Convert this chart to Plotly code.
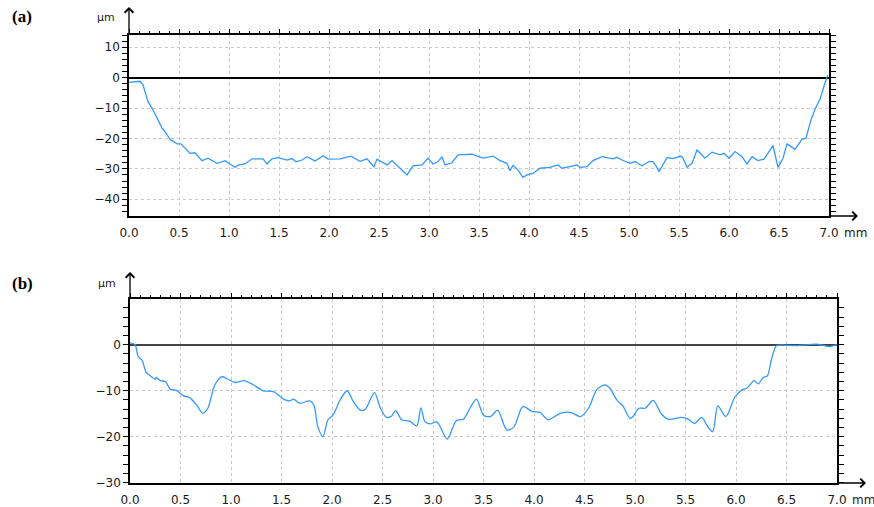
import plotly.graph_objects as go

# ---- data: panel (a) ----
a_x = [0.00,0.11,0.14,0.19,0.24,0.33,0.36,0.41,0.48,0.52,0.61,0.66,0.73,0.79,0.88,0.96,1.06,1.10,1.16,1.23,
       1.34,1.38,1.43,1.49,1.58,1.63,1.67,1.73,1.78,1.86,1.94,1.99,2.11,2.22,2.31,2.38,2.45,2.48,2.58,2.63,
       2.71,2.78,2.84,2.93,2.99,3.04,3.09,3.13,3.16,3.23,3.29,3.43,3.54,3.64,3.71,3.78,3.81,3.84,3.89,3.94,
       3.98,4.04,4.11,4.21,4.29,4.33,4.41,4.48,4.51,4.58,4.64,4.73,4.84,4.88,4.93,5.01,5.06,5.13,5.20,5.24,
       5.27,5.30,5.38,5.44,5.52,5.54,5.58,5.63,5.68,5.76,5.83,5.91,5.95,6.00,6.06,6.13,6.18,6.23,6.29,6.35,
       6.44,6.49,6.54,6.58,6.66,6.73,6.77,6.82,6.86,6.91,6.96,6.99]
a_y = [-1.6,-1.2,-2.4,-7.9,-10.6,-16.6,-17.8,-20.3,-21.8,-21.8,-24.9,-24.7,-27.3,-26.5,-28.2,-27.3,-29.5,-28.7,-28.4,-26.7,
       -26.7,-28.4,-26.7,-26.3,-27.1,-26.6,-27.7,-27.1,-26.0,-27.4,-25.7,-26.8,-26.7,-25.8,-27.5,-26.7,-29.3,-26.8,-28.7,-27.3,
       -29.8,-32.0,-29.0,-28.7,-26.5,-28.4,-27.6,-26.0,-28.7,-28.0,-25.4,-25.2,-26.5,-25.8,-27.3,-28.2,-30.6,-28.8,-30.4,-32.8,
       -32.0,-31.5,-29.8,-29.5,-28.7,-29.8,-29.3,-28.7,-29.5,-29.3,-27.3,-26.0,-26.7,-26.2,-27.1,-28.2,-27.6,-29.0,-27.6,-27.6,
       -29.0,-30.9,-26.3,-26.6,-25.8,-26.5,-29.5,-28.2,-23.8,-26.5,-24.5,-25.4,-24.9,-26.5,-24.3,-26.0,-28.4,-26.0,-27.3,-26.8,
       -22.4,-29.5,-26.5,-21.8,-23.6,-20.3,-19.9,-13.9,-10.4,-7.1,-1.8,0.9]

# ---- data: panel (b) ----
b_x = [0.00,0.05,0.08,0.12,0.16,0.21,0.25,0.26,0.30,0.35,0.40,0.46,0.53,0.59,0.66,0.72,0.77,0.84,0.91,0.97,
       1.04,1.13,1.22,1.32,1.42,1.52,1.58,1.62,1.68,1.78,1.82,1.86,1.91,1.96,2.01,2.08,2.15,2.21,2.28,2.33,
       2.42,2.48,2.54,2.59,2.63,2.69,2.77,2.84,2.88,2.92,2.97,3.04,3.14,3.23,3.30,3.37,3.43,3.50,3.57,3.64,
       3.73,3.80,3.89,3.98,4.06,4.14,4.26,4.36,4.46,4.54,4.62,4.70,4.75,4.82,4.88,4.95,4.98,5.04,5.10,5.18,
       5.26,5.33,5.46,5.53,5.59,5.66,5.72,5.77,5.82,5.90,5.99,6.06,6.11,6.18,6.22,6.27,6.31,6.35,6.40,6.45,
       6.60,6.80,6.93,7.00]
b_y = [0.4,0.0,-2.5,-3.4,-6.0,-6.9,-7.5,-7.1,-7.8,-8.0,-9.7,-9.9,-11.1,-11.5,-13.1,-14.9,-13.8,-8.7,-6.9,-7.5,
       -8.2,-7.8,-8.7,-10.0,-10.2,-11.8,-12.2,-11.8,-12.7,-12.2,-13.1,-17.8,-20.0,-16.3,-15.3,-12.0,-10.0,-12.3,-14.2,-14.0,
       -10.4,-13.8,-15.8,-15.5,-14.3,-16.3,-16.6,-17.6,-13.7,-16.7,-17.2,-16.8,-20.5,-16.5,-16.2,-13.6,-11.8,-15.3,-15.6,-14.2,
       -18.5,-17.9,-13.4,-14.5,-14.7,-16.3,-14.9,-14.7,-15.6,-13.8,-9.8,-8.7,-9.4,-12.0,-13.3,-16.0,-15.6,-13.8,-13.8,-12.1,
       -15.0,-16.2,-15.8,-16.2,-17.1,-15.8,-17.8,-18.9,-13.3,-15.6,-11.3,-9.8,-9.4,-7.8,-8.5,-7.1,-6.8,-3.3,-0.2,-0.1,
       -0.2,0.15,-0.4,0.1]

W, H = 874, 507
LINE = "#3399ff"
GRID = "#c8c8c8"
FONT = dict(family="DejaVu Sans", size=12, color="#1a1a1a")

def px(xp):
    return xp / W

def py(yp):
    return 1 - yp / H

# plot-area pixel boxes
A = dict(l=129, r=829, t=35, b=216)
B = dict(l=130, r=837, t=299, b=483)

fig = go.Figure()
fig.add_trace(go.Scatter(x=a_x, y=a_y, mode="lines", line=dict(color=LINE, width=1.3),
                         xaxis="x", yaxis="y", showlegend=False))
fig.add_trace(go.Scatter(x=b_x, y=b_y, mode="lines", line=dict(color=LINE, width=1.3, shape="spline", smoothing=0.8),
                         xaxis="x2", yaxis="y2", showlegend=False))
# dummy traces to activate top tick axes
fig.add_trace(go.Scatter(x=[None], y=[None], xaxis="x3", yaxis="y", showlegend=False))
fig.add_trace(go.Scatter(x=[None], y=[None], xaxis="x4", yaxis="y2", showlegend=False))

def xmain(box, anchor):
    return dict(domain=[px(box["l"]), px(box["r"])], anchor=anchor, range=[0, 7], automargin=False,
                dtick=0.5, tick0=0, tickformat=".1f", showgrid=True, gridcolor=GRID,
                griddash="3px,3px", gridwidth=1, ticks="", showline=True, linecolor="black",
                linewidth=1.5, mirror=True, zeroline=False, tickfont=FONT, ticklabelstandoff=5)

def xtop(box, anchor, over):
    return dict(domain=[px(box["l"]), px(box["r"])], anchor=anchor, overlaying=over, side="top",
                range=[0, 7], dtick=0.5, tick0=0, showticklabels=False, showgrid=False, automargin=False,
                ticks="outside", ticklen=5, tickwidth=1.2, tickcolor="black",
                minor=dict(dtick=0.1, ticklen=3, tickcolor="black", ticks="outside", showgrid=False),
                showline=False, zeroline=False)

def ymain(box, anchor, rng, zc):
    return dict(domain=[py(box["b"]), py(box["t"])], anchor=anchor, range=rng, automargin=False,
                dtick=10, tick0=0, showgrid=True, gridcolor=GRID, griddash="3px,3px", gridwidth=1,
                ticks="outside", ticklen=5, tickwidth=1.2, tickcolor="black",
                minor=dict(dtick=2, ticklen=3, tickcolor="black", ticks="outside", showgrid=False),
                showline=True, linecolor="black", linewidth=1.5, mirror="allticks",
                zeroline=True, zerolinecolor=zc, zerolinewidth=1.5, tickfont=FONT)

fig.update_layout(
    width=W, height=H, margin=dict(l=0, r=0, t=0, b=0, pad=0), autosize=False,
    paper_bgcolor="white", plot_bgcolor="white",
    xaxis=xmain(A, "y"), yaxis=ymain(A, "x", [-45.5, 14], "black"),
    xaxis2=xmain(B, "y2"), yaxis2=ymain(B, "x2", [-30.05, 9.95], "#444444"),
    xaxis3=xtop(A, "y", "x"), xaxis4=xtop(B, "y2", "x2"),
)

ann = []
for box, tip_y_top, tip_x_right, unit_y in [
    (A, 7, 858, 18),
    (B, 272, 866, 283),
]:
    # y-axis arrow
    ann.append(dict(x=px(box["l"]), y=py(tip_y_top), xref="paper", yref="paper",
                    ax=0, ay=box["t"] - tip_y_top, axref="pixel", ayref="pixel",
                    showarrow=True, arrowhead=4, arrowsize=1.3, arrowwidth=1.3,
                    arrowcolor="black", text="", standoff=0))
    # x-axis arrow
    ann.append(dict(x=px(tip_x_right), y=py(box["b"]), xref="paper", yref="paper",
                    ax=-(tip_x_right - box["r"]), ay=0, axref="pixel", ayref="pixel",
                    showarrow=True, arrowhead=4, arrowsize=1.3, arrowwidth=1.3,
                    arrowcolor="black", text="", standoff=0))
    # unit labels
    ann.append(dict(x=px(box["l"] - 12), y=py(unit_y), xref="paper", yref="paper",
                    text="µm", showarrow=False, xanchor="right", yanchor="middle",
                    font=dict(family="DejaVu Sans", size=11, color="#1a1a1a")))
    ann.append(dict(x=px(box["r"] + 13), y=py(box["b"] + 17), xref="paper", yref="paper",
                    text="mm", showarrow=False, xanchor="left", yanchor="middle", font=FONT))

ann.append(dict(x=px(10), y=py(17), xref="paper", yref="paper", text="<b>(a)</b>",
                showarrow=False, xanchor="left", yanchor="middle",
                font=dict(family="Liberation Serif", size=17, color="black")))
ann.append(dict(x=px(10), y=py(283), xref="paper", yref="paper", text="<b>(b)</b>",
                showarrow=False, xanchor="left", yanchor="middle",
                font=dict(family="Liberation Serif", size=17, color="black")))

fig.update_layout(annotations=ann)
fig.write_html("out.html", config={"displayModeBar": False},
               post_script="document.body.style.margin='0';document.body.style.padding='0';"
                           "document.body.style.overflow='hidden';")
